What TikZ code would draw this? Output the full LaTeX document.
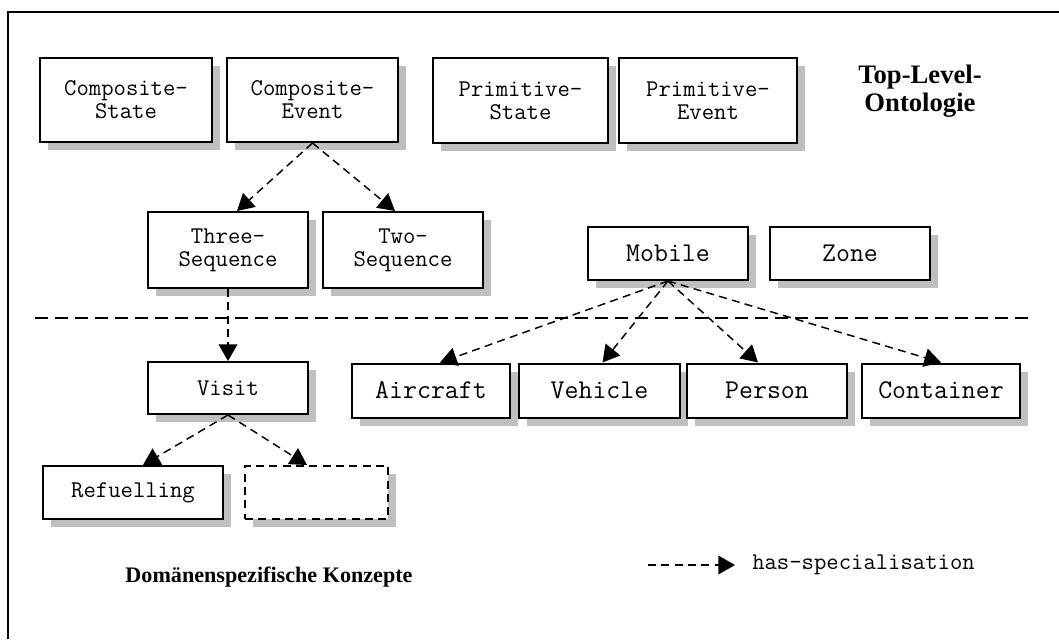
\documentclass[tikz,border=0pt]{standalone}
\usepackage{fontspec}
\setmainfont{Liberation Serif}
\usetikzlibrary{arrows.meta,shadows,calc}

\begin{document}
\begin{tikzpicture}[x=0.75pt,y=-0.75pt,
  concept/.style={draw,line width=1.5pt,fill=white,inner sep=0pt,align=center,
    drop shadow={shadow xshift=6pt,shadow yshift=-6pt,fill=black!25,opacity=1}},
  smalltxt/.style={font=\ttfamily\fontsize{18}{17.25}\selectfont},
  bigtxt/.style={font=\ttfamily\fontsize{20.3}{22}\selectfont},
  spec/.style={line width=1.1pt,dash pattern=on 6pt off 4pt,
    -{Triangle[length=12.5pt,width=14pt]}},
  heading/.style={font=\bfseries\fontsize{20}{21}\selectfont,align=center}]

  % canvas and frame (top and left edge only)
  \useasboundingbox (0,0) rectangle (1059,639);
  \draw[line width=1.5pt] (8,639) -- (8,12) -- (1059,12);

  % top-level ontology
  \node[concept,smalltxt,minimum width=129pt,minimum height=63pt] (cs) at (126,100) {Composite-\\State};
  \node[concept,smalltxt,minimum width=128.25pt,minimum height=63pt] (ce) at (312.5,100) {Composite-\\Event};
  \node[concept,smalltxt,minimum width=131.25pt,minimum height=63.75pt] (ps) at (520.5,100.5) {Primitive-\\State};
  \node[concept,smalltxt,minimum width=133.5pt,minimum height=63.75pt] (pe) at (708,100.5) {Primitive-\\Event};
  \node[heading] (tlo) at (920,91) {Top-Level-\\Ontologie};

  \node[concept,smalltxt,minimum width=120pt,minimum height=57pt] (ts) at (228,250) {Three-\\Sequence};
  \node[concept,smalltxt,minimum width=120pt,minimum height=57pt] (tws) at (403,250) {Two-\\Sequence};
  \node[concept,bigtxt,minimum width=120pt,minimum height=39.75pt] (mob) at (668,253.5) {Mobile};
  \node[concept,bigtxt,minimum width=120pt,minimum height=39.75pt] (zone) at (850,253.5) {Zone};

  % boundary between the two layers
  \draw[line width=1.1pt,dash pattern=on 9.75pt off 5.25pt] (35,318) -- (1030,318);

  % domain-specific concepts
  \node[concept,smalltxt,minimum width=120pt,minimum height=39pt] (visit) at (228,388) {Visit};
  \node[concept,bigtxt,minimum width=118.5pt,minimum height=40.5pt] (air) at (431,390.5) {Aircraft};
  \node[concept,bigtxt,minimum width=120.75pt,minimum height=40.5pt] (veh) at (599.5,390.5) {Vehicle};
  \node[concept,bigtxt,minimum width=120pt,minimum height=40.5pt] (per) at (767,390.5) {Person};
  \node[concept,bigtxt,minimum width=118.5pt,minimum height=40.5pt] (con) at (941,390.5) {Container};
  \node[concept,smalltxt,minimum width=135pt,minimum height=39.75pt] (ref) at (133,492.5) {Refuelling};
  \node[concept,smalltxt,dash pattern=on 6pt off 4pt,minimum width=107.25pt,minimum height=39.75pt] (blank) at (316.5,492.5) {};
  \node[heading,font=\bfseries\fontsize{16.6}{18}\selectfont] (dom) at (269,577) {Domänenspezifische Konzepte};

  % specialisation links
  \draw[spec] (ce.south) -- ($(ts.north)+(9,0)$);
  \draw[spec] (ce.south) -- ($(tws.north)+(-8,0)$);
  \draw[spec] (ts.south) -- (visit.north);
  \draw[spec] (mob.south) -- ($(air.north)+(9,0)$);
  \draw[spec] (mob.south) -- ($(veh.north)+(3,0)$);
  \draw[spec] (mob.south) -- ($(per.north)+(-9,0)$);
  \draw[spec] (mob.south) -- (con.north);
  \draw[spec] (visit.south) -- ($(ref.north)+(10,0)$);
  \draw[spec] (visit.south) -- ($(blank.north)+(-9.5,0)$);

  % legend
  \coordinate (lg1) at (648,565);
  \coordinate (lg2) at (735,565);
  \draw[spec] (lg1) -- (lg2);
  \node[smalltxt,anchor=west,inner sep=0pt] (lgtext) at (752,565) {has-specialisation};
\end{tikzpicture}
\end{document}
